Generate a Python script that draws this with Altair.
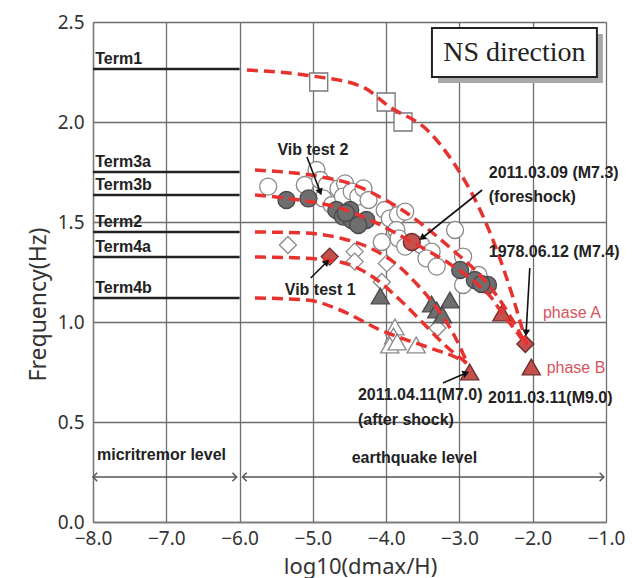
import math
import altair as alt
import pandas as pd

# ---------------- data ----------------
X_DOMAIN = [-8.0, -1.0]
Y_DOMAIN = [0.0, 2.5]
X_TICKS = [-8.0, -7.0, -6.0, -5.0, -4.0, -3.0, -2.0, -1.0]
Y_TICKS = [0.0, 0.5, 1.0, 1.5, 2.0, 2.5]

term_names = ["Term1", "Term3a", "Term3b", "Term2", "Term4a", "Term4b"]
term_freq = [2.265, 1.75, 1.635, 1.45, 1.325, 1.12]
term_x_start = -8.0
term_x_end = -6.0

open_circle_x = [-5.61, -5.11, -4.95, -4.90, -4.81, -4.86, -4.74, -4.65, -4.56, -4.59,
                 -4.47, -4.38, -4.31, -4.24, -4.02, -3.95, -3.84, -3.74, -3.86, -4.06,
                 -3.83, -3.74, -3.52, -3.38, -3.45, -3.31, -3.06, -2.95, -2.95, -2.74]
open_circle_y = [1.677, 1.685, 1.76, 1.71, 1.685, 1.618, 1.585, 1.668, 1.693, 1.627,
                 1.652, 1.627, 1.668, 1.61, 1.56, 1.518, 1.535, 1.552, 1.46, 1.40,
                 1.418, 1.377, 1.385, 1.352, 1.318, 1.277, 1.46, 1.327, 1.185, 1.235]

gray_circle_x = [-5.36, -5.06, -4.68, -4.49, -4.59, -4.47, -4.27, -4.38, -4.55,
                 -2.99, -2.79, -2.61, -2.70]
gray_circle_y = [1.61, 1.618, 1.56, 1.56, 1.527, 1.51, 1.51, 1.485, 1.545,
                 1.26, 1.21, 1.185, 1.19]

red_circle_x = [-3.65]
red_circle_y = [1.40]

open_diamond_x = [-5.34, -4.43, -4.43, -3.99, -4.06, -3.30]
open_diamond_y = [1.385, 1.352, 1.302, 1.293, 1.20, 0.97]

red_diamond_x = [-4.77, -2.10]
red_diamond_y = [1.327, 0.89]

gray_triangle_x = [-4.08, -3.38, -3.31, -3.13, -3.23]
gray_triangle_y = [1.13, 1.09, 1.06, 1.11, 1.035]

open_triangle_x = [-3.88, -3.90, -3.95, -3.59, -3.85]
open_triangle_y = [0.975, 0.93, 0.885, 0.885, 0.90]

red_triangle_x = [-2.42, -2.02, -2.86]
red_triangle_y = [1.045, 0.775, 0.75]

open_square_x = [-4.92, -4.00, -3.77]
open_square_y = [2.20, 2.10, 2.00]

curve_t1_x = [-5.90, -5.01, -4.32, -3.95, -3.44, -3.06, -2.75, -2.49, -2.28, -2.08]
curve_t1_y = [2.26, 2.23, 2.175, 2.075, 1.96, 1.785, 1.585, 1.36, 1.135, 0.885]
curve_t3a_x = [-5.79, -4.88, -4.43, -4.06, -3.74, -3.38, -3.06, -2.72, -2.45, -2.26, -2.09]
curve_t3a_y = [1.76, 1.725, 1.685, 1.62, 1.55, 1.45, 1.35, 1.235, 1.11, 1.0, 0.885]
curve_t3b_x = [-5.79, -5.18, -4.63, -4.22, -3.65, -3.13, -2.79, -2.56, -2.42, -2.24, -2.09]
curve_t3b_y = [1.635, 1.61, 1.57, 1.51, 1.40, 1.29, 1.20, 1.12, 1.045, 0.96, 0.885]
curve_t2_x = [-5.79, -5.11, -4.63, -4.22, -3.88, -3.57, -3.29, -3.06, -2.90]
curve_t2_y = [1.45, 1.445, 1.42, 1.37, 1.295, 1.185, 1.06, 0.925, 0.80]
curve_t4a_x = [-5.79, -5.18, -4.63, -4.18, -3.81, -3.47, -3.20, -2.90]
curve_t4a_y = [1.325, 1.32, 1.30, 1.225, 1.11, 0.985, 0.885, 0.795]
curve_t4b_x = [-5.79, -5.08, -4.63, -4.08, -3.40, -3.06, -2.90]
curve_t4b_y = [1.12, 1.11, 1.06, 0.96, 0.87, 0.825, 0.795]

# annotation texts
bold_labels = ["Vib test 2", "2011.03.09 (M7.3)", "(foreshock)", "1978.06.12 (M7.4)",
               "Vib test 1", "2011.04.11(M7.0)", "(after shock)", "2011.03.11(M9.0)",
               "micritremor level", "earthquake level"]
bold_label_x = [-5.00, -2.60, -2.60, -2.60, -4.90, -4.385, -4.385, -2.61, -7.945, -4.47]
bold_label_y = [1.86, 1.745, 1.625, 1.35, 1.16, 0.635, 0.51, 0.62, 0.335, 0.32]
bold_label_align = ["center", "left", "left", "left", "center", "left", "left", "left", "left", "left"]

phase_labels = ["phase A", "phase B"]
phase_label_x = [-1.86, -1.81]
phase_label_y = [1.045, 0.77]

arrow_x1 = [-5.08, -2.69, -2.04, -5.03, -3.225]
arrow_y1 = [1.825, 1.66, 1.27, 1.22, 0.695]
arrow_x2 = [-4.90, -3.51, -2.09, -4.81, -2.91]
arrow_y2 = [1.65, 1.42, 0.945, 1.30, 0.745]

range_x1 = [-8.0, -5.96]
range_x2 = [-6.04, -1.03]
range_y = 0.225

box_x = [-3.375, -1.124]
box_y = [2.47, 2.225]
box_text = "NS direction"
box_text_x = -2.25
box_text_y = 2.345

# ---------------- helpers ----------------
W, H = 513, 500
PX_X = W / (X_DOMAIN[1] - X_DOMAIN[0])
PX_Y = H / (Y_DOMAIN[1] - Y_DOMAIN[0])

AX_FONT = "Noto Sans"

x_axis = alt.Axis(values=X_TICKS, format=".1f", title="log10(dmax/H)", grid=True,
                  gridColor="#6e6e6e", gridWidth=1.3, ticks=False, domainColor="#777",
                  domainWidth=1.3, labelFont=AX_FONT, labelFontSize=19, labelColor="#333",
                  labelFlush=False, labelPadding=7, titleFont=AX_FONT, titleFontSize=22,
                  titleFontWeight="normal", titleColor="#333", titleX=267, titleY=56,
                  titleBaseline="bottom", titleAlign="center")
y_axis = alt.Axis(values=Y_TICKS, format=".1f", title="Frequency(Hz)", grid=True,
                  gridColor="#6e6e6e", gridWidth=1.3, ticks=False, domainColor="#777",
                  domainWidth=1.3, labelFont=AX_FONT, labelFontSize=19, labelColor="#333",
                  labelFlush=False, labelPadding=9, titleFont=AX_FONT, titleFontSize=23,
                  titleFontWeight="normal", titleColor="#333", titleX=-55, titleY=282,
                  titleBaseline="middle", titleAlign="center", titleAngle=270)


def X(field="x"):
    return alt.X(f"{field}:Q", scale=alt.Scale(domain=X_DOMAIN, nice=False, zero=False), axis=x_axis)


def Y(field="y"):
    return alt.Y(f"{field}:Q", scale=alt.Scale(domain=Y_DOMAIN, nice=False, zero=False), axis=y_axis)


def pts(xs, ys):
    return pd.DataFrame({"x": xs, "y": ys})


layers = []

# term lines and labels
term_df = pd.DataFrame({"name": term_names, "y": term_freq,
                        "x": [term_x_start] * len(term_names),
                        "x2": [term_x_end] * len(term_names),
                        "lx": [term_x_start + 0.03] * len(term_names)})
layers.append(alt.Chart(term_df).mark_rule(color="#222", strokeWidth=2.5)
              .encode(x=X(), x2="x2:Q", y=Y()))
layers.append(alt.Chart(term_df).mark_text(align="left", baseline="bottom", dy=-2,
                                           fontWeight="bold", fontSize=16,
                                           font="Liberation Sans", color="#222")
              .encode(x=X("lx"), y=Y(), text="name:N"))


def markers(xs, ys, shape, size, fill, stroke, sw=1.3):
    return (alt.Chart(pts(xs, ys))
            .mark_point(shape=shape, size=size, filled=True, fill=fill, stroke=stroke,
                        strokeWidth=sw, opacity=1)
            .encode(x=X(), y=Y()))


layers += [
    markers(open_circle_x, open_circle_y, "circle", 290, "white", "#8a8a8a"),
    markers(gray_circle_x, gray_circle_y, "circle", 290, "#6e6e6e", "#4a4a4a"),
    markers(red_circle_x, red_circle_y, "circle", 290, "#c4504e", "#6a2b2b"),
    markers(open_diamond_x, open_diamond_y, "diamond", 290, "white", "#8a8a8a"),
    markers(red_diamond_x, red_diamond_y, "diamond", 290, "#c4504e", "#6a2b2b"),
    markers(open_triangle_x, open_triangle_y, "triangle-up", 330, "white", "#8a8a8a"),
    markers(gray_triangle_x, gray_triangle_y, "triangle-up", 330, "#6e6e6e", "#4a4a4a"),
    markers(red_triangle_x, red_triangle_y, "triangle-up", 330, "#c4504e", "#6a2b2b"),
    markers(open_square_x, open_square_y, "square", 324, "white", "#777"),
]

# red dashed curves
curves = [("T1", curve_t1_x, curve_t1_y), ("T3a", curve_t3a_x, curve_t3a_y),
          ("T3b", curve_t3b_x, curve_t3b_y), ("T2", curve_t2_x, curve_t2_y),
          ("T4a", curve_t4a_x, curve_t4a_y), ("T4b", curve_t4b_x, curve_t4b_y)]
curve_df = pd.concat([pd.DataFrame({"curve": n, "x": xs, "y": ys}) for n, xs, ys in curves])
layers.append(alt.Chart(curve_df).mark_line(interpolate="monotone", strokeDash=[11, 6],
                                            strokeWidth=3.5, color="#e8322f")
              .encode(x=X(), y=Y(), detail="curve:N"))

# arrows
arrow_df = pd.DataFrame({"x": arrow_x1, "y": arrow_y1, "x2": arrow_x2, "y2": arrow_y2})
arrow_df["ang"] = [math.degrees(math.atan2((bx - ax) * PX_X, (by - ay) * PX_Y)) % 360
                   for ax, ay, bx, by in zip(arrow_x1, arrow_y1, arrow_x2, arrow_y2)]
layers.append(alt.Chart(arrow_df).mark_rule(color="#111", strokeWidth=1.6)
              .encode(x=X(), y=Y(), x2="x2:Q", y2="y2:Q"))
layers.append(alt.Chart(arrow_df).mark_point(shape="triangle-up", size=60, filled=True,
                                             color="#111", opacity=1)
              .encode(x=X("x2"), y=Y("y2"), angle=alt.Angle("ang:Q", scale=None)))

# annotation text
bl_df = pd.DataFrame({"t": bold_labels, "x": bold_label_x, "y": bold_label_y, "al": bold_label_align})
for al in ["left", "center"]:
    layers.append(alt.Chart(bl_df[bl_df.al == al]).mark_text(align=al, baseline="middle",
                                                             fontWeight="bold", fontSize=16,
                                                             font="Liberation Sans", color="#222")
                  .encode(x=X(), y=Y(), text="t:N"))
ph_df = pd.DataFrame({"t": phase_labels, "x": phase_label_x, "y": phase_label_y})
layers.append(alt.Chart(ph_df).mark_text(align="left", baseline="middle", fontSize=16,
                                         font="Liberation Sans", color="#d6545e")
              .encode(x=X(), y=Y(), text="t:N"))

# range arrows at the bottom
rng_df = pd.DataFrame({"x": range_x1, "x2": range_x2, "y": [range_y] * 2})
layers.append(alt.Chart(rng_df).mark_rule(color="#555", strokeWidth=1.5)
              .encode(x=X(), x2="x2:Q", y=Y()))
chev_r = pd.DataFrame({"x": range_x2, "y": [range_y] * 2})
chev_l = pd.DataFrame({"x": range_x1, "y": [range_y] * 2})
layers.append(alt.Chart(chev_r).mark_point(shape="M-1,-1L0,0L-1,1", size=70, filled=False,
                                           stroke="#555", strokeWidth=1.5, opacity=1)
              .encode(x=X(), y=Y()))
layers.append(alt.Chart(chev_l).mark_point(shape="M1,-1L0,0L1,1", size=70, filled=False,
                                           stroke="#555", strokeWidth=1.5, opacity=1)
              .encode(x=X(), y=Y()))

# NS direction box
box_df = pd.DataFrame({"x": [box_x[0]], "x2": [box_x[1]], "y": [box_y[0]], "y2": [box_y[1]]})
layers.append(alt.Chart(box_df).mark_rect(fill="#a8a8a8", xOffset=6, x2Offset=6, yOffset=6, y2Offset=6)
              .encode(x=X(), x2="x2:Q", y=Y(), y2="y2:Q"))
layers.append(alt.Chart(box_df).mark_rect(fill="white", stroke="#222", strokeWidth=2)
              .encode(x=X(), x2="x2:Q", y=Y(), y2="y2:Q"))
layers.append(alt.Chart(pd.DataFrame({"x": [box_text_x], "y": [box_text_y], "t": [box_text]}))
              .mark_text(align="center", baseline="middle", fontSize=28, font="Liberation Serif",
                         color="#222")
              .encode(x=X(), y=Y(), text="t:N"))

chart = (alt.layer(*layers)
         .properties(width=W, height=H, autosize=alt.AutoSizeParams(type="none"),
                     padding={"left": 93, "top": 22, "right": 26, "bottom": 56})
         .configure_view(stroke="#9a9a9a", strokeWidth=1.5)
         .configure(background="white"))

chart.save("out.html", embed_options={"renderer": "svg", "actions": False})
